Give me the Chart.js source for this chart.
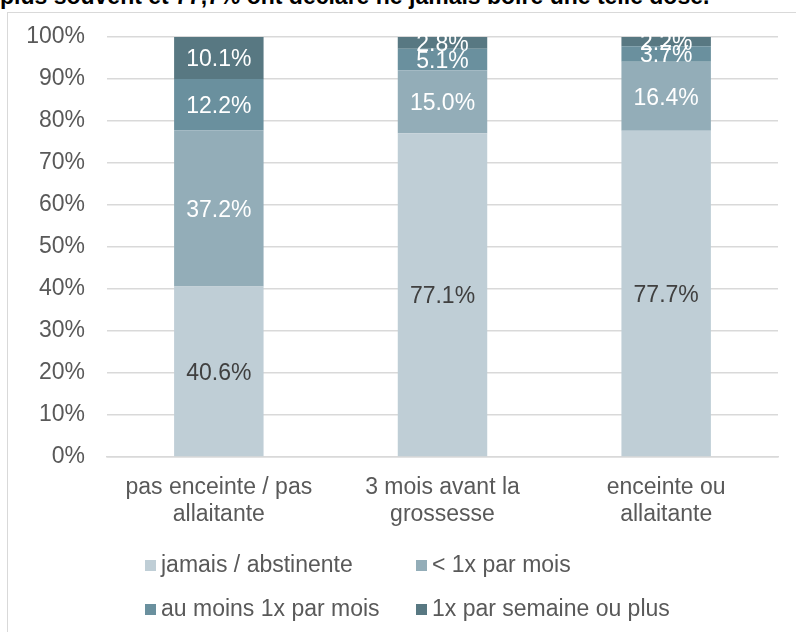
<!DOCTYPE html>
<html>
<head>
<meta charset="utf-8">
<script src="https://cdn.jsdelivr.net/npm/chart.js@4.4.1/dist/chart.umd.min.js"></script>
<style>
  html, body { margin: 0; padding: 0; background: #fff; }
  body { width: 796px; height: 632px; position: relative; overflow: hidden; font-family: "Liberation Sans", Arial, sans-serif; }
  .intro { position: absolute; left: 0; top: -15px; font-size: 23px; line-height: 23px; font-weight: bold; color: #000; white-space: nowrap; }
  .frame { position: absolute; left: 7px; top: 12px; width: 900px; height: 700px; border: 1px solid #d9d9d9; box-sizing: border-box; }
  .wrap { position: absolute; left: 0; top: 0; width: 796px; height: 632px; }
  .legend { position: absolute; left: 145px; top: 550px; display: grid; grid-template-columns: 271px auto; row-gap: 16px; font-size: 23px; line-height: 28px; color: #595959; }
  .legend span.box { display: inline-block; width: 11px; height: 11px; margin-right: 5px; vertical-align: 1px; }
</style>
</head>
<body>
<div class="intro">plus souvent et 77,7% ont déclaré ne jamais boire une telle dose.</div>
<div class="frame"></div>
<div class="wrap"><canvas id="chart" width="796" height="632"></canvas></div>
<div class="legend" id="legend"></div>
<script>
// categories and series
const categories = [
  ['pas enceinte / pas', 'allaitante'],
  ['3 mois avant la', 'grossesse'],
  ['enceinte ou', 'allaitante']
];
const seriesNames = ['jamais / abstinente', '< 1x par mois', 'au moins 1x par mois', '1x par semaine ou plus'];
const jamais = [40.6, 77.1, 77.7];
const moinsUneFois = [37.2, 15.0, 16.4];
const auMoinsUneFois = [12.2, 5.1, 3.7];
const parSemaine = [10.1, 2.8, 2.2];
const yTicks = [0, 10, 20, 30, 40, 50, 60, 70, 80, 90, 100];

const colors = ['#bfced6', '#93adb8', '#6a909e', '#587882'];
const labelColors = ['#404040', '#ffffff', '#ffffff', '#ffffff'];
const seriesValues = [jamais, moinsUneFois, auMoinsUneFois, parSemaine];

const datasets = seriesValues.map((vals, i) => ({
  label: seriesNames[i],
  data: vals,
  backgroundColor: colors[i],
  borderWidth: 0,
  barPercentage: 0.4,
  categoryPercentage: 1.0
}));

// values written in the middle of each segment
const segmentLabels = {
  id: 'segmentLabels',
  afterDatasetsDraw(chart) {
    const ctx = chart.ctx;
    ctx.save();
    ctx.font = '23px "Liberation Sans", Arial, sans-serif';
    ctx.textAlign = 'center';
    ctx.textBaseline = 'middle';
    chart.data.datasets.forEach((ds, i) => {
      const meta = chart.getDatasetMeta(i);
      meta.data.forEach((bar, j) => {
        const p = bar.getProps(['x', 'y', 'base'], true);
        ctx.fillStyle = labelColors[i];
        ctx.fillText(ds.data[j].toFixed(1) + '%', p.x, (p.y + p.base) / 2 + 2);
      });
    });
    ctx.restore();
  }
};

new Chart(document.getElementById('chart'), {
  type: 'bar',
  data: { labels: categories, datasets: datasets },
  options: {
    responsive: false,
    animation: false,
    layout: { padding: { top: 37, right: 18, left: 0, bottom: 0 } },
    plugins: { legend: { display: false }, tooltip: { enabled: false } },
    scales: {
      x: {
        stacked: true,
        grid: { display: false, drawTicks: false },
        border: { color: '#d9d9d9', width: 1.5 },
        ticks: { color: '#595959', font: { size: 23, family: '"Liberation Sans", Arial, sans-serif', lineHeight: 1.17 }, padding: 17, maxRotation: 0 },
        afterFit(scale) { scale.height = 175; }
      },
      y: {
        stacked: true,
        min: 0,
        max: 100,
        afterBuildTicks(scale) { scale.ticks = yTicks.map(v => ({ value: v })); },
        grid: { color: '#d9d9d9', lineWidth: 1.5, drawTicks: false },
        border: { display: false },
        ticks: { color: '#595959', font: { size: 23, family: '"Liberation Sans", Arial, sans-serif' }, padding: 22, callback: v => v + '%' },
        afterFit(scale) { scale.width = 107; }
      }
    }
  },
  plugins: [segmentLabels]
});

// legend laid out in two columns like the original
const legend = document.getElementById('legend');
seriesNames.forEach((name, i) => {
  const item = document.createElement('div');
  const box = document.createElement('span');
  box.className = 'box';
  box.style.background = colors[i];
  item.appendChild(box);
  item.appendChild(document.createTextNode(name));
  legend.appendChild(item);
});
</script>
</body>
</html>
